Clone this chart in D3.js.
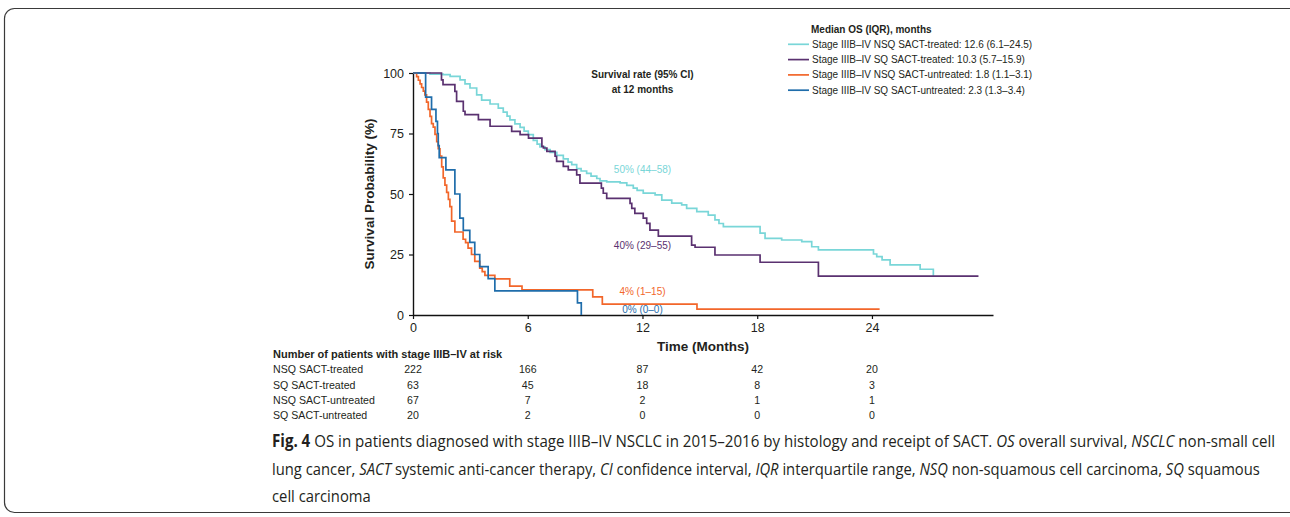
<!DOCTYPE html>
<html>
<head>
<meta charset="utf-8">
<script src="https://cdn.jsdelivr.net/npm/d3@7"></script>
<style>
  body { margin: 0; background: #fff; }
  svg text { font-family: "Liberation Sans", Arial, sans-serif; fill: #231f20; }
</style>
</head>
<body>
<svg id="chart" width="1290" height="517"></svg>
<script>
'use strict'

const d3 = window.d3

// Kaplan-Meier steps, [months, survival %]
const nsqTreated = [
  [0, 100], [0.89, 99.5], [1.57, 99.3], [1.94, 98.6], [2.46, 97.2], [2.72, 95.5], [2.98, 93.8],
  [3.33, 91], [3.59, 88.8], [4.03, 87.2], [4.46, 85.5], [4.72, 83.8], [4.92, 82.2], [5.07, 80.6],
  [5.33, 79], [5.6, 77.5], [5.81, 76], [6.03, 74.5], [6.29, 72.2], [6.49, 70.6], [6.64, 69.5],
  [6.9, 68.3], [7.17, 67.2], [7.52, 66], [7.86, 64.5], [8.11, 63.2], [8.3, 62.1], [8.56, 60.5],
  [8.79, 59.5], [9.08, 58.5], [9.31, 57.4], [9.61, 56.4], [9.78, 55.4], [10.13, 55], [10.83, 54.6],
  [11.18, 53.6], [11.52, 52.4], [11.72, 51.5], [12.04, 50.4], [12.66, 49.6], [13.01, 47.5],
  [13.53, 46.2], [14.05, 45.5], [14.31, 44.1], [14.84, 42.7], [15.44, 41.3], [15.79, 39.3],
  [16.0, 37.8], [16.23, 36.5], [18.15, 33.8], [18.41, 31.7], [19.28, 31], [20.33, 30.3],
  [20.85, 28.2], [21.2, 26.9], [24.08, 25.2], [24.25, 24.1], [24.53, 22.8], [24.95, 20.7],
  [26.52, 18.9], [27.21, 16.2]
]
const sqTreated = [
  [0, 100], [1.49, 97.2], [1.57, 95.2], [2.19, 92.4], [2.28, 88.3], [2.63, 84.2], [2.72, 82.8],
  [3.42, 80.7], [4.03, 78], [5.16, 75.9], [5.6, 74.5], [6.04, 73.1], [6.74, 69.7], [6.82, 69],
  [7.0, 67.6], [7.43, 65.6], [7.51, 63.5], [7.86, 61.4], [8.12, 60], [8.56, 57.9], [8.73, 54.5],
  [9.85, 52.4], [9.95, 50.3], [10.13, 48.2], [11.35, 46.1], [11.44, 44.1], [11.6, 42], [12.04, 40],
  [12.22, 37.9], [12.39, 35.1], [12.83, 32.6], [14.57, 28.9], [14.75, 28], [15.79, 24.8],
  [18.15, 21.8], [21.2, 16.1], [29.57, 16.1]
]
const nsqUntreated = [
  [0, 100], [0.19, 98.5], [0.28, 97], [0.37, 95.5], [0.45, 94], [0.54, 92.5], [0.62, 91],
  [0.71, 88], [0.8, 85], [0.89, 82.1], [0.97, 79.1], [1.06, 77.6], [1.15, 74.6], [1.24, 71.6],
  [1.32, 68.7], [1.41, 65.7], [1.5, 61.2], [1.58, 56.7], [1.67, 53.7], [1.76, 50.7], [1.85, 47.8],
  [1.93, 44.8], [2.02, 38.8], [2.19, 34.3], [2.62, 31.3], [2.75, 29.9], [2.88, 27.6], [3.06, 25],
  [3.23, 22.2], [3.49, 19.4], [3.62, 17.9], [3.76, 16.4], [4.28, 14.9], [5.06, 11.9], [5.7, 10.4],
  [9.4, 7.5], [9.9, 4.5], [14.85, 2.4], [24.4, 2.4]
]
const sqUntreated = [
  [0, 100], [0.66, 90], [0.97, 85], [1.2, 80], [1.28, 75], [1.32, 70], [1.37, 65], [1.72, 60],
  [2.19, 50], [2.45, 40], [2.63, 35], [2.97, 30], [3.23, 25], [3.49, 20], [3.93, 15], [4.28, 10],
  [8.6, 5], [8.8, 0]
]

const seriesColors = ['#79d6d8', '#5a3170', '#f2662a', '#1f6dab']
const legendLabels = [
  'Stage IIIB–IV NSQ SACT-treated: 12.6 (6.1–24.5)',
  'Stage IIIB–IV SQ SACT-treated: 10.3 (5.7–15.9)',
  'Stage IIIB–IV NSQ SACT-untreated: 1.8 (1.1–3.1)',
  'Stage IIIB–IV SQ SACT-untreated: 2.3 (1.3–3.4)'
]
const rateLabels = ['50% (44–58)', '40% (29–55)', '4% (1–15)', '0% (0–0)']

const xTicks = [0, 6, 12, 18, 24]
const yTicks = [0, 25, 50, 75, 100]

const riskRows = ['NSQ SACT-treated', 'SQ SACT-treated', 'NSQ SACT-untreated', 'SQ SACT-untreated']
const riskNsqTreated = [222, 166, 87, 42, 20]
const riskSqTreated = [63, 45, 18, 8, 3]
const riskNsqUntreated = [67, 7, 2, 1, 1]
const riskSqUntreated = [20, 2, 0, 0, 0]

const svg = d3.select('#chart')

// figure frame
svg.append('rect')
    .attr('x', 4.5).attr('y', 8.5)
    .attr('width', 1300).attr('height', 504)
    .attr('rx', 10)
    .attr('fill', 'none')
    .attr('stroke', '#3a3a3a')
    .attr('stroke-width', 1.2)

const x = d3.scaleLinear().domain([0, 30.33]).range([413, 993])
const y = d3.scaleLinear().domain([0, 100]).range([315, 73])

// axes
const xAxis = svg.append('g')
    .attr('transform', `translate(0,${y(0)})`)
    .call(d3.axisBottom(x).tickValues(xTicks).tickSize(4).tickSizeOuter(0).tickPadding(4))
const yAxis = svg.append('g')
    .attr('transform', `translate(${x(0)},0)`)
    .call(d3.axisLeft(y).tickValues(yTicks).tickSize(4).tickSizeOuter(0).tickPadding(5))

;[xAxis, yAxis].forEach(g => {
  g.attr('font-size', 12.5).attr('font-family', null)
  g.select('.domain').attr('stroke', '#111').attr('stroke-width', 1.4)
  g.selectAll('.tick line').attr('stroke', '#111').attr('stroke-width', 1.2)
})

svg.append('text')
    .attr('transform', `translate(374,${y(50)}) rotate(-90)`)
    .attr('text-anchor', 'middle')
    .attr('font-size', 13.5)
    .attr('font-weight', 'bold')
    .text('Survival Probability (%)')

svg.append('text')
    .attr('x', x(15.17)).attr('y', 351)
    .attr('text-anchor', 'middle')
    .attr('font-size', 13.5)
    .attr('font-weight', 'bold')
    .text('Time (Months)')

// curves
const line = d3.line()
    .x(d => x(d[0]))
    .y(d => y(d[1]))
    .curve(d3.curveStepAfter)

const series = [nsqTreated, sqTreated, nsqUntreated, sqUntreated]
svg.selectAll('.km')
    .data(series)
  .enter().append('path')
    .attr('class', 'km')
    .attr('d', line)
    .attr('fill', 'none')
    .attr('stroke', (d, i) => seriesColors[i])
    .attr('stroke-width', 1.7)

// survival rate at 12 months
const rateAt = [60.3, 28.9, 9.6, 2.1]
svg.append('text')
    .attr('x', x(12)).attr('y', 78)
    .attr('text-anchor', 'middle')
    .attr('font-size', 10).attr('font-weight', 'bold')
    .text('Survival rate (95% CI)')
svg.append('text')
    .attr('x', x(12)).attr('y', 92.5)
    .attr('text-anchor', 'middle')
    .attr('font-size', 10).attr('font-weight', 'bold')
    .text('at 12 months')
svg.selectAll('.rate')
    .data(rateLabels)
  .enter().append('text')
    .attr('class', 'rate')
    .attr('x', x(12))
    .attr('y', (d, i) => y(rateAt[i]))
    .attr('dy', '0.35em')
    .attr('text-anchor', 'middle')
    .attr('font-size', 10)
    .style('fill', (d, i) => seriesColors[i])
    .text(d => d)

// legend
const legend = svg.append('g').attr('transform', 'translate(788,29)')
legend.append('text')
    .attr('x', 23).attr('dy', '0.35em')
    .attr('font-size', 10).attr('font-weight', 'bold')
    .text('Median OS (IQR), months')
const item = legend.selectAll('.item')
    .data(legendLabels)
  .enter().append('g')
    .attr('class', 'item')
    .attr('transform', (d, i) => `translate(0,${15.3 * (i + 1)})`)
item.append('line')
    .attr('x1', 0).attr('x2', 21)
    .attr('stroke', (d, i) => seriesColors[i])
    .attr('stroke-width', 1.7)
item.append('text')
    .attr('x', 24).attr('dy', '0.35em')
    .attr('font-size', 10)
    .text(d => d)

// number at risk
const riskCounts = [riskNsqTreated, riskSqTreated, riskNsqUntreated, riskSqUntreated]
svg.append('text')
    .attr('x', 273).attr('y', 354).attr('dy', '0.35em')
    .attr('font-size', 11).attr('font-weight', 'bold')
    .text('Number of patients with stage IIIB–IV at risk')
const row = svg.selectAll('.risk')
    .data(riskRows)
  .enter().append('g')
    .attr('class', 'risk')
    .attr('transform', (d, i) => `translate(0,${369.5 + 15.4 * i})`)
row.append('text')
    .attr('x', 273).attr('dy', '0.35em')
    .attr('font-size', 10.6)
    .text(d => d)
row.selectAll('.n')
    .data((d, i) => riskCounts[i])
  .enter().append('text')
    .attr('class', 'n')
    .attr('x', (d, j) => x(xTicks[j]))
    .attr('dy', '0.35em')
    .attr('text-anchor', 'middle')
    .attr('font-size', 10.6)
    .text(d => d)

// caption
const captionLines = [
  [['Fig. 4', 'b'], [' OS in patients diagnosed with stage IIIB–IV NSCLC in 2015–2016 by histology and receipt of SACT. ', 'n'],
   ['OS', 'i'], [' overall survival, ', 'n'], ['NSCLC', 'i'], [' non-small cell', 'n']],
  [['lung cancer, ', 'n'], ['SACT', 'i'], [' systemic anti-cancer therapy, ', 'n'], ['CI', 'i'], [' confidence interval, ', 'n'],
   ['IQR', 'i'], [' interquartile range, ', 'n'], ['NSQ', 'i'], [' non-squamous cell carcinoma, ', 'n'], ['SQ', 'i'], [' squamous', 'n']],
  [['cell carcinoma', 'n']]
]
const captionWidths = [1004, 989, null]
let lastScale = 1
captionLines.forEach((parts, k) => {
  const t = svg.append('text')
      .attr('x', 0).attr('y', 0)
      .style('font-family', '"Open Sans", sans-serif')
      .style('font-size', '17px')
      .style('white-space', 'pre')
  parts.forEach(p => {
    t.append('tspan')
        .attr('font-weight', p[1] === 'b' ? 'bold' : null)
        .attr('font-style', p[1] === 'i' ? 'italic' : null)
        .text(p[0])
  })
  if (captionWidths[k]) lastScale = captionWidths[k] / t.node().getComputedTextLength()
  t.attr('transform', `translate(272,${447 + 27.5 * k}) scale(${lastScale},1)`)
})
</script>
</body>
</html>
